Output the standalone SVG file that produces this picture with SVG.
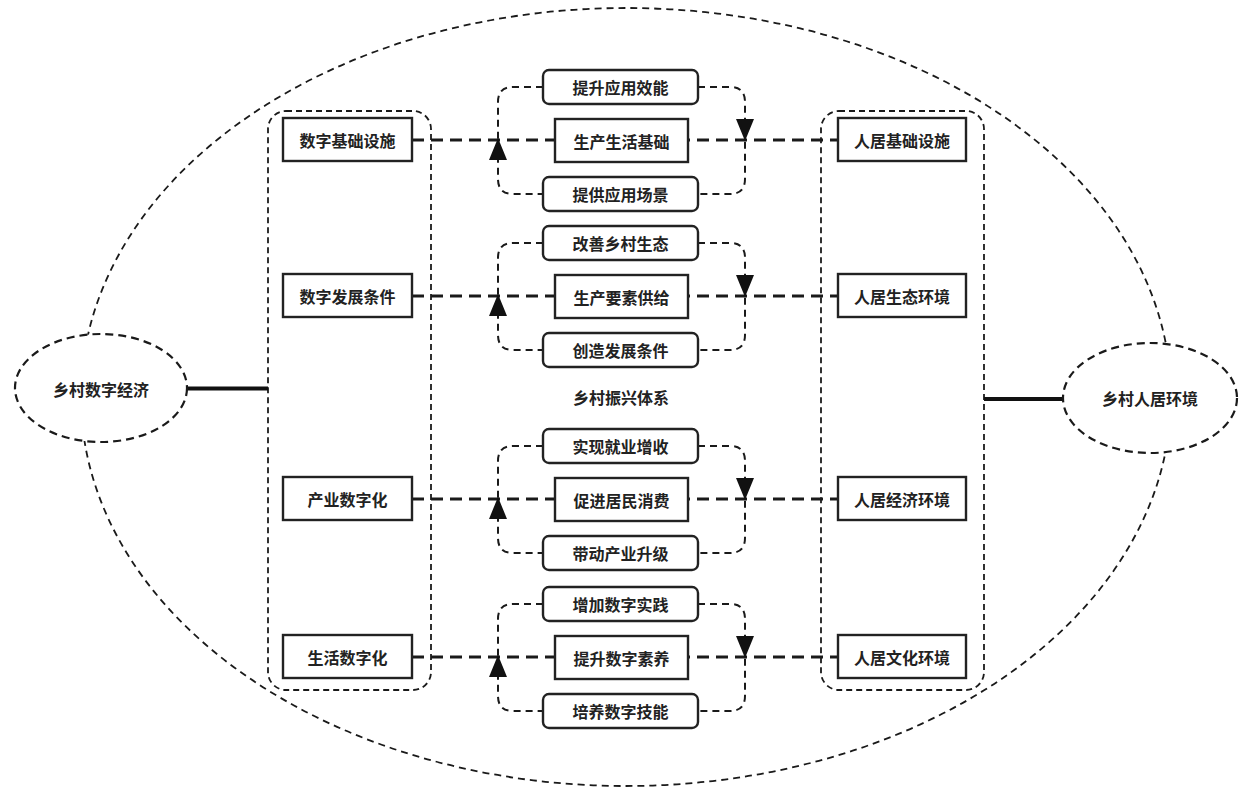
<svg xmlns="http://www.w3.org/2000/svg" width="1242" height="789" viewBox="0 0 1242 789">
<style>
  .bg{fill:#fff}
  .big{fill:none;stroke:#1a1a1a;stroke-width:1.8;stroke-dasharray:7 5}
  .sm{fill:#fff;stroke:#1a1a1a;stroke-width:2.2;stroke-dasharray:8 5}
  .cont{fill:none;stroke:#1a1a1a;stroke-width:1.8;stroke-dasharray:6 4}
  .main{fill:none;stroke:#1a1a1a;stroke-width:3;stroke-dasharray:12 7}
  .loop{fill:none;stroke:#1a1a1a;stroke-width:2;stroke-dasharray:7 5}
  .thick{fill:none;stroke:#111;stroke-width:4}
  .box{fill:#fff;stroke:#222;stroke-width:2.4}
  .arr{fill:#111;stroke:none}
  text{font-family:"Noto Sans CJK SC","Noto Sans CJK JP",sans-serif;font-size:16px;font-weight:700;fill:#222;text-anchor:middle;dominant-baseline:central}
</style>
<rect class="bg" x="0" y="0" width="1242" height="789"/>
<g id="outer">
  <ellipse class="big" cx="626" cy="397" rx="545" ry="389"/>
</g>
<g id="containers">
  <rect id="left-container" class="cont" x="268" y="111" width="163" height="579" rx="18"/>
  <rect id="right-container" class="cont" x="821" y="111" width="163" height="579" rx="18"/>
</g>
<g id="connectors">
  <line class="thick" x1="187" y1="388.5" x2="268" y2="388.5"/>
  <line class="thick" x1="984" y1="399" x2="1063" y2="399"/>
  <path class="main" d="M412,140 H838 M412,296 H838 M412,499 H838 M412,657 H838"/>
  <path class="loop" d="M543,87 H513 Q498,87 498,102 V179 Q498,194 513,194 H543 M698,87 H730 Q745,87 745,102 V179 Q745,194 730,194 H698"/>
  <path class="loop" d="M543,243 H513 Q498,243 498,258 V335 Q498,350 513,350 H543 M698,243 H730 Q745,243 745,258 V335 Q745,350 730,350 H698"/>
  <path class="loop" d="M543,446 H513 Q498,446 498,461 V538 Q498,553 513,553 H543 M698,446 H730 Q745,446 745,461 V538 Q745,553 730,553 H698"/>
  <path class="loop" d="M543,604 H513 Q498,604 498,619 V696 Q498,711 513,711 H543 M698,604 H730 Q745,604 745,619 V696 Q745,711 730,711 H698"/>
  <polygon class="arr" points="498,138 489,160 507,160"/>
  <polygon class="arr" points="736,119 754,119 745,141"/>
  <polygon class="arr" points="498,294 489,316 507,316"/>
  <polygon class="arr" points="736,275 754,275 745,297"/>
  <polygon class="arr" points="498,497 489,519 507,519"/>
  <polygon class="arr" points="736,478 754,478 745,500"/>
  <polygon class="arr" points="498,655 489,677 507,677"/>
  <polygon class="arr" points="736,636 754,636 745,658"/>
</g>
<g id="n-rural-digital-economy">
  <ellipse class="sm" cx="101" cy="388" rx="86" ry="54"/>
  <text x="101" y="389">乡村数字经济</text>
</g>
<g id="n-rural-living-env">
  <ellipse class="sm" cx="1150" cy="398" rx="87" ry="55"/>
  <text x="1150" y="398">乡村人居环境</text>
</g>
<g id="n-label-system">
  <text x="621" y="397">乡村振兴体系</text>
</g>
<!-- Row 1 -->
<g id="n-l1"><rect class="box" x="283" y="118" width="129" height="43"/><text x="347.5" y="140">数字基础设施</text></g>
<g id="n-t1"><rect class="box" x="543" y="70" width="155" height="34" rx="6"/><text x="620.5" y="87">提升应用效能</text></g>
<g id="n-m1"><rect class="box" x="555" y="119" width="133" height="43"/><text x="621.5" y="140.5">生产生活基础</text></g>
<g id="n-b1"><rect class="box" x="543" y="177" width="155" height="34" rx="6"/><text x="620.5" y="194">提供应用场景</text></g>
<g id="n-r1"><rect class="box" x="838" y="118" width="128" height="43"/><text x="902" y="140">人居基础设施</text></g>
<!-- Row 2 -->
<g id="n-l2"><rect class="box" x="283" y="274" width="129" height="43"/><text x="347.5" y="296">数字发展条件</text></g>
<g id="n-t2"><rect class="box" x="543" y="226" width="155" height="34" rx="6"/><text x="620.5" y="243">改善乡村生态</text></g>
<g id="n-m2"><rect class="box" x="555" y="275" width="133" height="43"/><text x="621.5" y="296.5">生产要素供给</text></g>
<g id="n-b2"><rect class="box" x="543" y="333" width="155" height="34" rx="6"/><text x="620.5" y="350">创造发展条件</text></g>
<g id="n-r2"><rect class="box" x="838" y="274" width="128" height="43"/><text x="902" y="296">人居生态环境</text></g>
<!-- Row 3 -->
<g id="n-l3"><rect class="box" x="283" y="477" width="129" height="43"/><text x="347.5" y="499">产业数字化</text></g>
<g id="n-t3"><rect class="box" x="543" y="429" width="155" height="34" rx="6"/><text x="620.5" y="446">实现就业增收</text></g>
<g id="n-m3"><rect class="box" x="555" y="478" width="133" height="43"/><text x="621.5" y="499.5">促进居民消费</text></g>
<g id="n-b3"><rect class="box" x="543" y="536" width="155" height="34" rx="6"/><text x="620.5" y="553">带动产业升级</text></g>
<g id="n-r3"><rect class="box" x="838" y="477" width="128" height="43"/><text x="902" y="499">人居经济环境</text></g>
<!-- Row 4 -->
<g id="n-l4"><rect class="box" x="283" y="635" width="129" height="43"/><text x="347.5" y="657">生活数字化</text></g>
<g id="n-t4"><rect class="box" x="543" y="587" width="155" height="34" rx="6"/><text x="620.5" y="604">增加数字实践</text></g>
<g id="n-m4"><rect class="box" x="555" y="636" width="133" height="43"/><text x="621.5" y="657.5">提升数字素养</text></g>
<g id="n-b4"><rect class="box" x="543" y="694" width="155" height="34" rx="6"/><text x="620.5" y="711">培养数字技能</text></g>
<g id="n-r4"><rect class="box" x="838" y="635" width="128" height="43"/><text x="902" y="657">人居文化环境</text></g>
</svg>
